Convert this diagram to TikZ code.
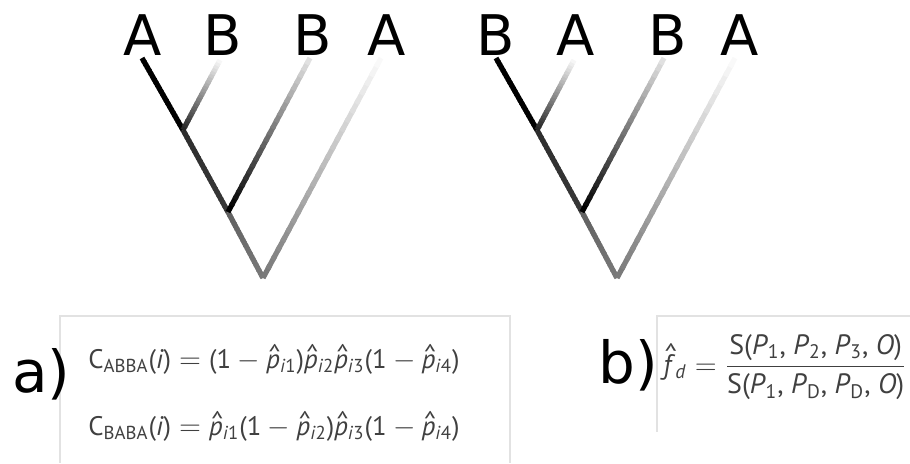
\documentclass[tikz,border=0pt]{standalone}
\usepackage{fontspec}
\setmainfont{DejaVu Sans}
\newfontfamily\eqfont{PT Sans}
\usepackage{tikz}
\usetikzlibrary{calc}
\definecolor{eqgray}{HTML}{404040}
\definecolor{framegray}{HTML}{E2E2E2}
\newcommand{\hatit}[2][0.35ex]{\ooalign{\textit{#2}\cr\hidewidth\kern0.12em\raisebox{#1}{\^{}}\hidewidth\cr}}
\newcommand{\eqs}{\ensuremath{{}={}}}
\newcommand{\mns}{\ensuremath{{}-{}}}

\begin{document}
\begin{tikzpicture}[x=0.5pt, y=-0.5pt,
  taxon/.style={font=\fontsize{28}{30}\selectfont, inner sep=0pt, anchor=base},
  panel/.style={font=\fontsize{29}{31}\selectfont, inner sep=0pt, anchor=base west},
  eqn/.style={font=\eqfont\fontsize{13.4}{15}\selectfont, text=eqgray, inner sep=0pt, anchor=base west},
  frame/.style={draw=framegray, line width=0.6pt},
  branch/.style={line width=2.6pt, line cap=butt}]
  \useasboundingbox (0,0) rectangle (910,463);
  % trees: left (ABBA) and right (BABA)
  \foreach \t/\dx in {a/0, b/354} {
    \coordinate (\t l1) at (142+\dx,58);
    \coordinate (\t l2) at (220+\dx,60);
    \coordinate (\t l3) at (310+\dx,58);
    \coordinate (\t l4) at (381+\dx,58);
    \coordinate (\t n1) at (183+\dx,130);
    \coordinate (\t n2) at (228+\dx,212);
    \coordinate (\t r) at (263+\dx,278);
  }
  \foreach \t in {a,b} {
    \foreach \p/\q/\s/\e in {l1/n1/100/100, n1/n2/82/78, n2/r/62/52, r/l4/52/0, n1/l2/85/0, n2/l3/100/8} {
      \foreach \k in {0,...,23} {
        \pgfmathsetmacro\pc{\s+(\e-\s)*\k/24}
        \pgfmathsetmacro\nx{min(\k+1.4,24)/24}
        \draw[branch, draw=black!\pc] ($(\t\p)!\k/24!(\t\q)$) -- ($(\t\p)!\nx!(\t\q)$);
      }
    }
  }
  \node[taxon] (ta1) at (143,55) {A};
  \node[taxon] (ta2) at (223,55) {B};
  \node[taxon] (ta3) at (313,55) {B};
  \node[taxon] (ta4) at (387,55) {A};
  \node[taxon] (tb1) at (496,55) {B};
  \node[taxon] (tb2) at (576,55) {A};
  \node[taxon] (tb3) at (668,55) {B};
  \node[taxon] (tb4) at (740,55) {A};
  % (a) counts
  \draw[frame] (60,463) -- (60,316) -- (510,316) -- (510,463);
  \node[panel] (pa) at (12,392) {a)};
  \node[eqn] (cabba) at (88,368) {C\textsubscript{ABBA}(\textit{i})\eqs(1\mns\hatit{p}\textsubscript{\textit{i}1})\hatit{p}\textsubscript{\textit{i}2}\hatit{p}\textsubscript{\textit{i}3}(1\mns\hatit{p}\textsubscript{\textit{i}4})};
  \node[eqn] (cbaba) at (88,435) {C\textsubscript{BABA}(\textit{i})\eqs\hatit{p}\textsubscript{\textit{i}1}(1\mns\hatit{p}\textsubscript{\textit{i}2})\hatit{p}\textsubscript{\textit{i}3}(1\mns\hatit{p}\textsubscript{\textit{i}4})};
  % (b) f_d
  \draw[frame] (657,432) -- (657,316) -- (910,316);
  \node[panel] (pb) at (598,383) {b)};
  \node[eqn, font=\eqfont\fontsize{14}{16}\selectfont] (fd) at (663,374) {\hatit[0.75ex]{f}\textsubscript{\textit{d}}\eqs$\displaystyle\frac{\hbox{S(\textit{P}\textsubscript{1}, \textit{P}\textsubscript{2}, \textit{P}\textsubscript{3}, \textit{O})}}{\hbox{S(\textit{P}\textsubscript{1}, \textit{P}\textsubscript{D}, \textit{P}\textsubscript{D}, \textit{O})}}$};
\end{tikzpicture}
\end{document}
